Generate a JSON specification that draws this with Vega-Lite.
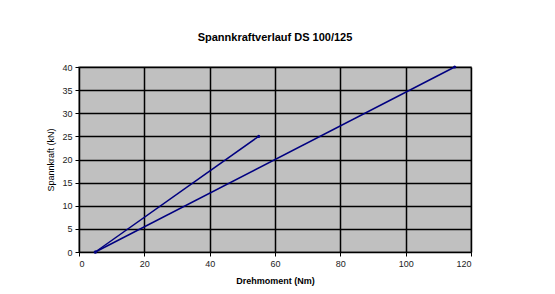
{
  "$schema": "https://vega.github.io/schema/vega-lite/v6.json",
  "autosize": {"type": "none"},
  "width": 392,
  "height": 185,
  "padding": {"left": 79, "top": 67, "right": 84, "bottom": 42},
  "background": "white",
  "title": {
    "text": "Spannkraftverlauf DS 100/125",
    "font": "Liberation Sans",
    "fontSize": 11,
    "fontWeight": "bold",
    "color": "black",
    "anchor": "middle",
    "offset": 20
  },
  "config": {
    "view": {"fill": "#C0C0C0", "stroke": "#808080", "strokeWidth": 1.5},
    "axis": {
      "labelFont": "Liberation Sans",
      "labelFontSize": 9,
      "labelColor": "#222222",
      "titleFont": "Liberation Sans",
      "titleColor": "black",
      "domainColor": "black",
      "tickColor": "black",
      "gridColor": "black",
      "gridWidth": 1.5,
      "gridOpacity": 1
    }
  },
  "data": {
    "values": [
      {"series": "A", "drehmoment": 5, "spannkraft": 0, "o": 0},
      {"series": "A", "drehmoment": 55, "spannkraft": 25, "o": 1},
      {"series": "B", "drehmoment": 5, "spannkraft": 0, "o": 0},
      {"series": "B", "drehmoment": 115, "spannkraft": 40, "o": 1}
    ]
  },
  "mark": {"type": "line", "color": "#000080", "strokeWidth": 1.5, "point": {"filled": true, "size": 10, "color": "#000080"}},
  "encoding": {
    "x": {
      "field": "drehmoment",
      "type": "quantitative",
      "scale": {"domain": [0, 120], "nice": false},
      "axis": {
        "values": [0, 20, 40, 60, 80, 100, 120],
        "title": "Drehmoment (Nm)",
        "titleFontSize": 9,
        "titleFontWeight": "bold",
        "titlePadding": 8,
        "tickSize": 4,
        "labelPadding": 3
      }
    },
    "y": {
      "field": "spannkraft",
      "type": "quantitative",
      "scale": {"domain": [0, 40], "nice": false},
      "axis": {
        "values": [0, 5, 10, 15, 20, 25, 30, 35, 40],
        "title": "Spannkraft (kN)",
        "titleFontSize": 9,
        "titleFontWeight": "normal",
        "titlePadding": 6,
        "tickSize": 4,
        "labelPadding": 3
      }
    },
    "detail": {"field": "series"},
    "order": {"field": "o"}
  }
}
